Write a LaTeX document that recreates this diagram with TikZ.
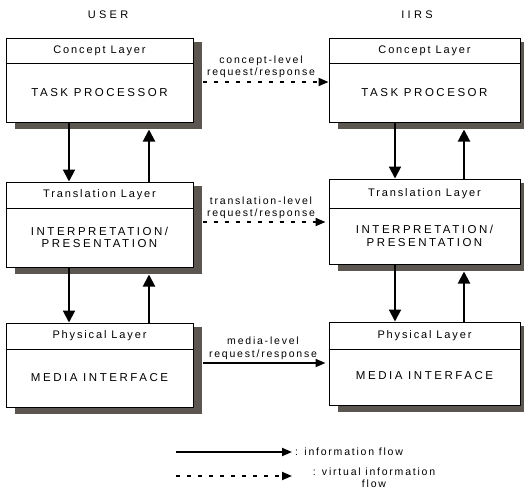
\documentclass[tikz,border=0pt]{standalone}
\usepackage{fontspec}
\setmainfont{Liberation Sans}
\newfontfamily\trackA[LetterSpace=17]{Liberation Sans}
\newfontfamily\trackB[LetterSpace=22]{Liberation Sans}
\newfontfamily\trackC[LetterSpace=30]{Liberation Sans}
\usetikzlibrary{arrows.meta,calc}
\definecolor{shadowgray}{RGB}{92,86,80}
\begin{document}
\begin{tikzpicture}[x=1pt,y=-1pt,
  layerbox/.style={draw, fill=white, line width=1pt, inner sep=0pt},
  hdr/.style={font=\trackA\fontsize{11}{13}\selectfont, inner sep=0pt},
  bodytxt/.style={font=\trackB\fontsize{11.5}{12.5}\selectfont, align=center, inner sep=0pt},
  lbl/.style={font=\trackA\fontsize{10.5}{12.5}\selectfont, align=center, inner sep=0pt},
  ttl/.style={font=\trackC\fontsize{11}{13}\selectfont, inner sep=0pt},
  flow/.style={line width=2pt, -{Triangle[length=12pt,width=12pt]}},
  hflow/.style={line width=1.8pt, -{Triangle[length=10pt,width=8pt]}},
  vflow/.style={line width=1.8pt, dash pattern=on 4pt off 7pt, -{Triangle[length=10pt,width=8pt]}}
]
\useasboundingbox (0,0) rectangle (524,493);

% shadows (drawn first, behind the boxes)
\fill[shadowgray] (15,42) rectangle (202,129);
\fill[shadowgray] (15,186) rectangle (202,274);
\fill[shadowgray] (15,327) rectangle (202,414);
\fill[shadowgray] (338,42) rectangle (529,129);
\fill[shadowgray] (338,183) rectangle (529,271);
\fill[shadowgray] (338,326) rectangle (529,412);

% titles
\node[ttl] (tuser) at (108,15) {USER};
\node[ttl] (tiirs) at (417,15) {IIRS};

% user side boxes
\node[layerbox, minimum width=187pt, minimum height=84pt] (uc) at (99.5,80) {};
\draw[line width=0.8pt] (uc.west |- 0,63) -- (uc.east |- 0,63);
\node[hdr] (uch) at (99.5,50.5) {Concept Layer};
\node[bodytxt] (ucb) at (99.5,93) {TASK PROCESSOR};

\node[layerbox, minimum width=187pt, minimum height=85pt] (ut) at (99.5,224.5) {};
\draw[line width=0.8pt] (ut.west |- 0,208) -- (ut.east |- 0,208);
\node[hdr] (uth) at (99.5,195) {Translation Layer};
\node[bodytxt] (utb) at (99.5,237.5) {INTERPRETATION/\\PRESENTATION};

\node[layerbox, minimum width=187pt, minimum height=84pt] (up) at (99.5,365) {};
\draw[line width=0.8pt] (up.west |- 0,349) -- (up.east |- 0,349);
\node[hdr] (uph) at (99.5,336) {Physical Layer};
\node[bodytxt] (upb) at (99.5,378) {MEDIA INTERFACE};

% IIRS side boxes
\node[layerbox, minimum width=191pt, minimum height=84pt] (rc) at (424.5,80) {};
\draw[line width=0.8pt] (rc.west |- 0,63) -- (rc.east |- 0,63);
\node[hdr] (rch) at (424.5,50.5) {Concept Layer};
\node[bodytxt] (rcb) at (424.5,93) {TASK PROCESOR};

\node[layerbox, minimum width=191pt, minimum height=85pt] (rt) at (424.5,221.5) {};
\draw[line width=0.8pt] (rt.west |- 0,208) -- (rt.east |- 0,208);
\node[hdr] (rth) at (424.5,194) {Translation Layer};
\node[bodytxt] (rtb) at (424.5,236) {INTERPRETATION/\\PRESENTATION};

\node[layerbox, minimum width=191pt, minimum height=83pt] (rp) at (424.5,363.5) {};
\draw[line width=0.8pt] (rp.west |- 0,349) -- (rp.east |- 0,349);
\node[hdr] (rph) at (424.5,335.5) {Physical Layer};
\node[bodytxt] (rpb) at (424.5,376) {MEDIA INTERFACE};

% vertical flows, user side
\draw[flow] (uc.south -| 69,0) -- (ut.north -| 69,0);
\draw[flow, shorten >=7pt] (ut.north -| 149,0) -- (uc.south -| 149,0);
\draw[flow] (ut.south -| 69,0) -- (up.north -| 69,0);
\draw[flow, shorten >=7pt] (up.north -| 149,0) -- (ut.south -| 149,0);

% vertical flows, IIRS side
\draw[flow] (rc.south -| 395,0) -- (rt.north -| 395,0);
\draw[flow, shorten >=7pt] (rt.north -| 464,0) -- (rc.south -| 464,0);
\draw[flow] (rt.south -| 395,0) -- (rp.north -| 395,0);
\draw[flow, shorten >=7pt] (rp.north -| 464,0) -- (rt.south -| 464,0);

% horizontal flows
\draw[vflow, shorten <=9pt] (uc.east |- 0,82) -- (rc.west |- 0,82);
\node[lbl] (lc) at (261,67) {concept-level\\request/response};
\draw[vflow, shorten <=9pt, shorten >=3pt] (ut.east |- 0,222) -- (rt.west |- 0,222);
\node[lbl] (lt) at (261,208) {translation-level\\request/response};
\draw[hflow, shorten <=9pt, shorten >=3pt] (up.east |- 0,363) -- (rp.west |- 0,363);
\node[lbl] (lm) at (263,348.5) {media-level\\request/response};

% legend
\coordinate (la) at (176,452);
\coordinate (lb) at (292,452);
\draw[hflow] (la) -- (lb);
\node[lbl, anchor=west] (li) at (295,452) {: information flow};
\coordinate (lc1) at (176,476);
\coordinate (ld) at (292,476);
\draw[vflow] (lc1) -- (ld);
\node[lbl] (lv) at (374,477.5) {: virtual information\\flow};
\end{tikzpicture}
\end{document}
